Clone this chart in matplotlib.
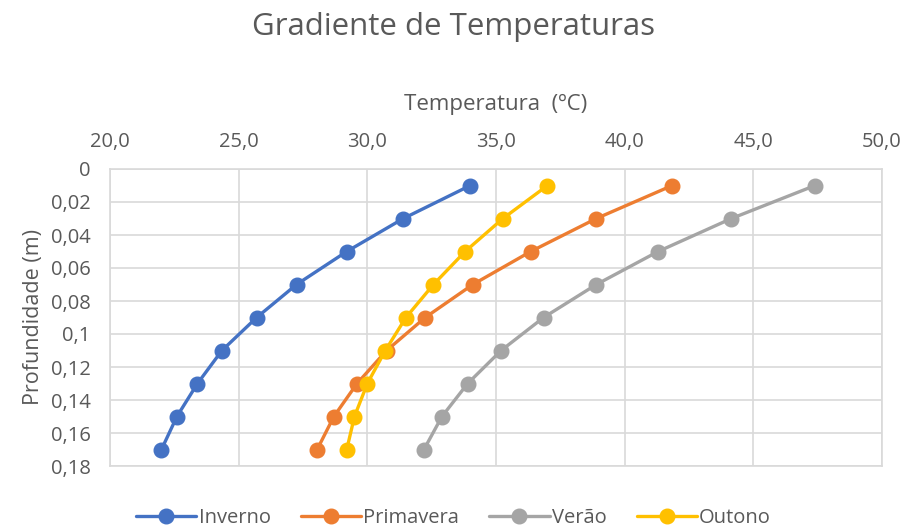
import matplotlib
matplotlib.use("Agg")
import matplotlib.pyplot as plt
from matplotlib.ticker import FuncFormatter, MultipleLocator

plt.rcParams['font.family'] = ['Open Sans', 'DejaVu Sans']

depth = [0.01, 0.03, 0.05, 0.07, 0.09, 0.11, 0.13, 0.15, 0.17]
inverno = [34.0, 31.4, 29.2, 27.25, 25.7, 24.35, 23.4, 22.6, 22.0]
primavera = [41.85, 38.9, 36.35, 34.1, 32.25, 30.75, 29.6, 28.7, 28.05]
verao = [47.4, 44.15, 41.3, 38.9, 36.85, 35.2, 33.9, 32.9, 32.2]
outono = [37.0, 35.27, 33.8, 32.57, 31.5, 30.7, 30.0, 29.5, 29.2]

series_names = ["Inverno", "Primavera", "Verão", "Outono"]
series_vals = [inverno, primavera, verao, outono]
colors = ["#4472C4", "#ED7D31", "#A5A5A5", "#FFC000"]

txt = "#595959"
grid = "#D9D9D9"

fig = plt.figure(figsize=(9.07, 5.32), dpi=100)
ax = fig.add_axes([110/907, 1-466/532, (882-110)/907, (466-169)/532])

for name, vals, c in zip(series_names, series_vals, colors):
    ax.plot(vals, depth, color=c, lw=2.4, marker='o', markersize=10.5, label=name,
            solid_capstyle='round', zorder=3)

ax.set_xlim(20, 50)
ax.set_ylim(0.18, 0)
ax.xaxis.set_major_locator(MultipleLocator(5))
ax.yaxis.set_major_locator(MultipleLocator(0.02))
ax.xaxis.tick_top()
ax.xaxis.set_label_position('top')

def xfmt(v, p):
    return f"{v:.1f}".replace('.', ',')

def yfmt(v, p):
    s = f"{v:.2f}".rstrip('0').rstrip('.')
    if s == '':
        s = '0'
    return s.replace('.', ',')

ax.xaxis.set_major_formatter(FuncFormatter(xfmt))
ax.yaxis.set_major_formatter(FuncFormatter(yfmt))

ax.grid(True, color=grid, lw=1.2, zorder=0)
for s in ax.spines.values():
    s.set_color(grid)
    s.set_linewidth(1.2)
ax.tick_params(axis='both', length=0, colors=txt, labelsize=14.5)
ax.tick_params(axis='x', pad=12)
ax.tick_params(axis='y', pad=14)

ax.set_xlabel("Temperatura  (ºC)", color=txt, fontsize=16, labelpad=16)
ax.set_ylabel("Profundidade (m)", color=txt, fontsize=15.5, labelpad=5)

fig.suptitle("Gradiente de Temperaturas", color=txt, fontsize=22.5, y=1-27/532, va='center')

leg = fig.legend(loc='center', bbox_to_anchor=(0.5, 1-518/532), ncol=4, frameon=False,
                 fontsize=14.5, handlelength=3.0, columnspacing=1.5, handletextpad=0.1,
                 labelcolor=txt)

fig.savefig("out.png", dpi=100)
